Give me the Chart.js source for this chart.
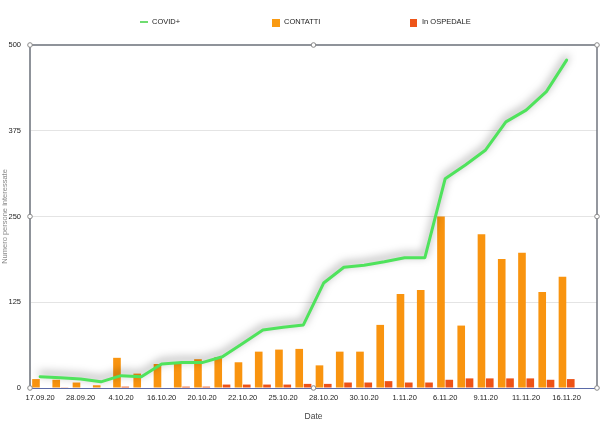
<!DOCTYPE html>
<html>
<head>
  <title>COVID+ / contatti / in ospedale</title>
  <script src="https://cdn.jsdelivr.net/npm/chart.js"></script>
  <style>
    body { margin: 0; background: #fff; font-family: "Liberation Sans", Arial, Helvetica, sans-serif; }
    #wrap { position: relative; width: 610px; height: 431px; }
    .lg { position: absolute; font-size: 7.5px; color: #222; line-height: 8px; white-space: nowrap; }
    .sw { position: absolute; }
  </style>
</head>
<body>
<div id="wrap">
  <canvas id="c" width="610" height="431"></canvas>
  <div class="sw" style="left:140px;top:21px;width:8px;height:2px;background:#6fdc70"></div>
  <div class="lg" style="left:152px;top:18px">COVID+</div>
  <div class="sw" style="left:272px;top:19px;width:8px;height:8px;background:#f99a12"></div>
  <div class="lg" style="left:284px;top:18px">CONTATTI</div>
  <div class="sw" style="left:410px;top:19px;width:7px;height:8px;background:#ee5519"></div>
  <div class="lg" style="left:422px;top:18px">In OSPEDALE</div>
</div>
<script>
// tick labels: only every other date is printed on the original axis
const dates = ['17.09.20', '', '28.09.20', '', '4.10.20', '', '16.10.20', '', '20.10.20', '',
  '22.10.20', '', '25.10.20', '', '28.10.20', '', '30.10.20', '', '1.11.20', '',
  '6.11.20', '', '9.11.20', '', '11.11.20', '', '16.11.20', ''];
const covid = [16.5, 15, 13, 9, 18, 16.5, 35, 37, 37, 45.6, 65, 84.5, 88.5, 92,
  153, 176, 179, 184, 190, 190, 305, 325, 347, 388, 405, 432, 478, null];
const contatti = [13, 12, 8, 4, 44, 21, 35, 36, 42, 45, 37.5, 53, 56, 57,
  33, 53, 53, 92, 137, 143, 250, 91, 224, 188, 197, 140, 162, null];
const ospedale = [0, 1, 0, 0, 2, 0, 0, 2, 2, 5, 5, 5, 5, 6,
  6, 8, 8, 10, 8, 8, 12, 14, 14, 14, 14, 12, 13, null];
const yTicks = [0, 125, 250, 375, 500];

Chart.defaults.font.family = '"Liberation Sans", Arial, Helvetica, sans-serif';
Chart.defaults.font.size = 7.5;
Chart.defaults.color = '#222';

// soft grey shadow under the green line
const lineShadow = {
  id: 'lineShadow',
  beforeDatasetDraw(chart, args) {
    if (args.index !== 0) return;
    const c = chart.ctx;
    c.save();
    c.shadowColor = 'rgba(0,0,0,0.5)';
    c.shadowBlur = 8;
    c.shadowOffsetY = -3;
  },
  afterDatasetDraw(chart, args) {
    if (args.index === 0) chart.ctx.restore();
  }
};

// right border + the little handle circles around the plot
const frame = {
  id: 'frame',
  afterDraw(chart) {
    const {left, right, top, bottom} = chart.chartArea;
    const c = chart.ctx;
    c.save();
    c.strokeStyle = '#70747e';
    c.lineWidth = 1.5;
    c.beginPath();
    c.moveTo(right, top);
    c.lineTo(right, bottom);
    c.stroke();
    const mx = (left + right) / 2, my = (top + bottom) / 2;
    const pts = [[left, top], [mx, top], [right, top], [left, my], [right, my], [left, bottom], [mx, bottom], [right, bottom]];
    c.lineWidth = 1;
    c.strokeStyle = '#888';
    c.fillStyle = '#fff';
    pts.forEach(p => {
      c.beginPath();
      c.arc(p[0], p[1], 2.3, 0, Math.PI * 2);
      c.fill();
      c.stroke();
    });
    c.restore();
  }
};

new Chart(document.getElementById('c'), {
  type: 'bar',
  data: {
    labels: dates,
    datasets: [
      {
        type: 'line',
        label: 'COVID+',
        data: covid,
        borderColor: '#4fe35c',
        backgroundColor: '#4fe35c',
        borderWidth: 3,
        pointRadius: 0,
        tension: 0,
        borderJoinStyle: 'round',
        borderCapStyle: 'round'
      },
      {
        label: 'CONTATTI',
        data: contatti,
        backgroundColor: '#f9940f',
        categoryPercentage: 0.82,
        barPercentage: 0.92
      },
      {
        label: 'In OSPEDALE',
        data: ospedale,
        backgroundColor: '#ee5216',
        categoryPercentage: 0.82,
        barPercentage: 0.92
      }
    ]
  },
  options: {
    responsive: false,
    animation: false,
    layout: { padding: { top: 45, right: 13, bottom: 9, left: 0 } },
    plugins: { legend: { display: false }, tooltip: { enabled: false } },
    scales: {
      x: {
        grid: { display: false, drawTicks: false },
        border: { display: true, color: '#5a6aa8', width: 1 },
        ticks: { autoSkip: false, maxRotation: 0, padding: 5, color: '#222' },
        title: { display: true, text: 'Date', font: { size: 8.5 }, color: '#444', padding: 0 },
        afterFit(s) { s.height = 34; }
      },
      y: {
        min: 0,
        max: 500,
        afterBuildTicks(s) { s.ticks = yTicks.map(v => ({value: v})); },
        grid: {
          drawTicks: false,
          color: ctx => ctx.tick.value === 500 ? '#8f939a' : (ctx.tick.value === 0 ? 'rgba(0,0,0,0)' : '#e4e4e4'),
          lineWidth: ctx => ctx.tick.value === 500 ? 2 : 1
        },
        border: { display: true, color: '#8f939a', width: 2 },
        ticks: { padding: 9, color: '#222' },
        title: { display: true, text: 'Numero persone interessate', color: '#888', padding: 0 },
        afterFit(s) { s.width = 30; }
      }
    }
  },
  plugins: [lineShadow, frame]
});
</script>
</body>
</html>
